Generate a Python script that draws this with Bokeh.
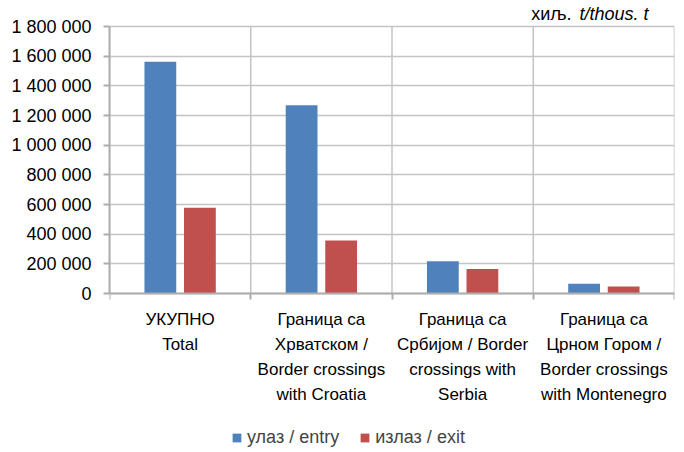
from bokeh.plotting import figure
from bokeh.models import (ColumnDataSource, FixedTicker, Legend, LegendItem, Label, Range1d)
from bokeh.embed import file_html
from bokeh.resources import INLINE

categories = [
    "УКУПНО\nTotal",
    "Граница са\nХрватском /\nBorder crossings\nwith Croatia",
    "Граница са\nСрбијом / Border\ncrossings with\nSerbia",
    "Граница са\nЦрном Гором /\nBorder crossings\nwith Montenegro",
]
entry = [1562000, 1269000, 218000, 65000]
exit_ = [578000, 357000, 166000, 47000]
y_ticks = [0, 200000, 400000, 600000, 800000, 1000000, 1200000, 1400000, 1600000, 1800000]
y_tick_labels = ["0", "200 000", "400 000", "600 000", "800 000", "1 000 000",
                 "1 200 000", "1 400 000", "1 600 000", "1 800 000"]
series_names = ["улаз / entry", "излаз / exit"]
colors = ["#4F81BD", "#C0504D"]

FONT = "Liberation Sans"
GRID = "#C4C4C4"
AX = "#ADADAD"

n = len(categories)
ymax = y_ticks[-1]
centers = [i + 0.5 for i in range(n)]
bounds = list(range(n + 1))

# layout (pixels): plot area 0..ymax spans 267 px, 24 px room above, rest below
FRAME_H = 446
PX_VALUE = 267
y_top = ymax * (PX_VALUE + 24) / PX_VALUE
y_bottom = -ymax * (FRAME_H - PX_VALUE - 24) / PX_VALUE

src = ColumnDataSource(dict(
    xe=[c - 0.14 for c in centers],
    xx=[c + 0.14 for c in centers],
    entry=entry,
    exit=exit_,
))
grid_src = ColumnDataSource(dict(x=bounds, y0=[0] * len(bounds), y1=[ymax] * len(bounds)))

p = figure(width=676, height=450, output_backend="svg", toolbar_location=None,
           x_range=Range1d(0, n), y_range=Range1d(y_bottom, y_top),
           min_border_left=109, min_border_right=2, min_border_top=2, min_border_bottom=2,
           frame_width=565, frame_height=FRAME_H)
p.outline_line_color = None

# vertical grid lines at category boundaries
p.segment(x0="x", x1="x", y0="y0", y1="y1", source=grid_src, line_color=GRID, line_width=1.5)
p.xgrid.visible = False

r1 = p.vbar(x="xe", top="entry", width=0.225, source=src, fill_color=colors[0], line_color=None)
r2 = p.vbar(x="xx", top="exit", width=0.225, source=src, fill_color=colors[1], line_color=None)

# y axis
p.yaxis.bounds = (0, ymax)
p.yaxis.ticker = FixedTicker(ticks=y_ticks)
p.yaxis.major_label_overrides = {t: l for t, l in zip(y_ticks, y_tick_labels)}
p.yaxis.axis_line_color = AX
p.yaxis.axis_line_width = 2
p.yaxis.major_tick_line_color = AX
p.yaxis.major_tick_line_width = 2
p.yaxis.major_tick_out = 6
p.yaxis.major_tick_in = 0
p.yaxis.minor_tick_line_color = None
p.yaxis.major_label_text_font = FONT
p.yaxis.major_label_text_font_size = "18px"
p.yaxis.major_label_text_color = "#000000"
p.yaxis.major_label_standoff = 12

# x axis, fixed at y = 0
p.xaxis.fixed_location = 0
p.xaxis.ticker = FixedTicker(ticks=centers, minor_ticks=bounds)
p.xaxis.major_label_overrides = {c: l for c, l in zip(centers, categories)}
p.xaxis.axis_line_color = AX
p.xaxis.axis_line_width = 2
p.xaxis.major_tick_line_color = None
p.xaxis.major_tick_out = 0
p.xaxis.minor_tick_line_color = AX
p.xaxis.minor_tick_line_width = 2
p.xaxis.minor_tick_out = 6
p.xaxis.minor_tick_in = 0
p.xaxis.major_label_text_font = FONT
p.xaxis.major_label_text_font_size = "17px"
p.xaxis.major_label_text_color = "#000000"
p.xaxis.major_label_standoff = 10
p.xaxis.major_label_text_line_height = 1.33

# horizontal grid only for the value ticks
p.ygrid.ticker = FixedTicker(ticks=y_ticks)
p.ygrid.grid_line_color = GRID
p.ygrid.grid_line_width = 1.5

# unit label
p.add_layout(Label(x=n, y=ymax, x_offset=-103, y_offset=3, text="хиљ.", text_align="right",
                   text_font=FONT, text_font_size="18px", text_color="#000000"))
p.add_layout(Label(x=n, y=ymax, x_offset=-26, y_offset=3, text="t/thous. t", text_align="right",
                   text_font=FONT, text_font_size="18px", text_font_style="italic", text_color="#000000"))

legend = Legend(items=[LegendItem(label=series_names[0], renderers=[r1]),
                       LegendItem(label=series_names[1], renderers=[r2])],
                location=(122, 0), orientation="horizontal",
                padding=0, margin=0, spacing=20, label_standoff=5,
                glyph_width=11, glyph_height=11,
                label_text_font=FONT, label_text_font_size="18px",
                border_line_color=None, background_fill_alpha=0)
p.add_layout(legend, "center")

open("out.html", "w").write(file_html(p, INLINE))
